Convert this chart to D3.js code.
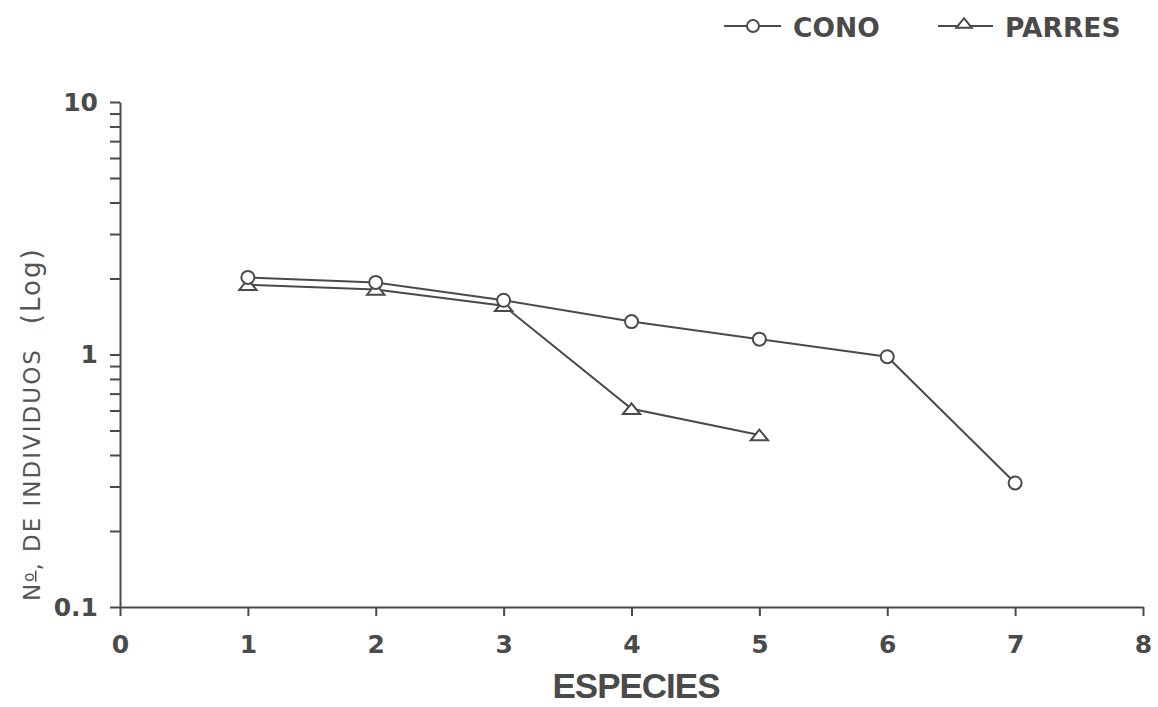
<!DOCTYPE html>
<html>
<head>
<meta charset="utf-8">
<script src="https://cdn.jsdelivr.net/npm/d3@7"></script>
<style>
  body { margin: 0; background: #fff; }
  svg { display: block; font-family: "DejaVu Sans", sans-serif; }
</style>
</head>
<body>
<svg id="chart" width="1158" height="707"></svg>
<script>
// data
const especies = [1, 2, 3, 4, 5, 6, 7];
const cono = [2.02, 1.93, 1.64, 1.35, 1.15, 0.98, 0.31];
const parres = [1.89, 1.81, 1.56, 0.61, 0.48];
const xTicks = [0, 1, 2, 3, 4, 5, 6, 7, 8];
const yMajor = [0.1, 1, 10];
const yMinor = [0.2, 0.3, 0.4, 0.5, 0.6, 0.7, 0.8, 0.9, 2, 3, 4, 5, 6, 7, 8, 9];

const ink = '#4a4a4a';
const svg = d3.select('#chart');

const x = d3.scaleLinear().domain([0, 8]).range([120, 1143]);
const y = d3.scaleLog().domain([0.1, 10]).range([607, 102]);

// wide, flat triangle like the plotter marker
const flatTriangle = {
    draw(ctx, size) {
        const w = Math.sqrt(size);
        const h = w * 0.62;
        ctx.moveTo(0, -h * 0.6);
        ctx.lineTo(w / 2, h * 0.4);
        ctx.lineTo(-w / 2, h * 0.4);
        ctx.closePath();
    }
};

// x axis
const xAxis = d3.axisBottom(x)
    .tickValues(xTicks)
    .tickSize(9)
    .tickSizeOuter(0)
    .tickPadding(19)
    .tickFormat(d3.format('d'));
const gx = svg.append('g')
    .attr('transform', 'translate(0,607)')
    .call(xAxis);
gx.select('.domain').attr('stroke', ink).attr('stroke-width', 2);
gx.selectAll('.tick line').attr('stroke', ink).attr('stroke-width', 2);
gx.selectAll('.tick text')
    .attr('fill', ink)
    .style('font-family', '"DejaVu Sans", sans-serif')
    .style('font-size', '25px')
    .style('font-weight', 'bold');

// y axis, minor ticks first
const gyMinor = svg.append('g')
    .attr('transform', 'translate(120,0)')
    .call(d3.axisLeft(y).tickValues(yMinor).tickSize(10).tickFormat(''));
gyMinor.select('.domain').remove();
gyMinor.selectAll('.tick line').attr('stroke', ink).attr('stroke-width', 2);

const gy = svg.append('g')
    .attr('transform', 'translate(120,0)')
    .call(d3.axisLeft(y)
        .tickValues(yMajor)
        .tickSize(10)
        .tickSizeOuter(0)
        .tickPadding(12)
        .tickFormat(d => d === 0.1 ? '0.1' : String(d)));
gy.select('.domain').attr('stroke', ink).attr('stroke-width', 2);
gy.selectAll('.tick line').attr('stroke', ink).attr('stroke-width', 2);
gy.selectAll('.tick text')
    .attr('fill', ink)
    .style('font-family', '"DejaVu Sans", sans-serif')
    .style('font-size', '25px')
    .style('font-weight', 'bold');

// axis titles
svg.append('text')
    .text('ESPECIES')
    .attr('x', 636)
    .attr('y', 698)
    .attr('text-anchor', 'middle')
    .attr('fill', ink)
    .style('font-family', '"Liberation Sans", Arial, sans-serif')
    .style('font-size', '35px')
    .style('font-weight', 'bold')
    .style('letter-spacing', '-1px');

const yTitle = svg.append('text')
    .attr('transform', 'translate(40,601) rotate(-90)')
    .attr('fill', '#555')
    .style('font-size', '23px')
    .style('letter-spacing', '2px');
yTitle.append('tspan').text('N');
yTitle.append('tspan').text('o').attr('dy', -6).style('font-size', '15px').style('text-decoration', 'underline');
yTitle.append('tspan').text(', DE INDIVIDUOS').attr('dy', 6);
yTitle.append('tspan').text('(Log)').attr('dx', 24).style('font-size', '26px');

// series
const line = d3.line()
    .x(d => x(d[0]))
    .y(d => y(d[1]));

const conoData = cono.map((v, i) => [especies[i], v]);
const parresData = parres.map((v, i) => [especies[i], v]);

const triangle = d3.symbol().type(flatTriangle).size(300);

svg.append('path')
    .datum(parresData)
    .attr('d', line)
    .attr('fill', 'none')
    .attr('stroke', ink)
    .attr('stroke-width', 2);

svg.append('path')
    .datum(conoData)
    .attr('d', line)
    .attr('fill', 'none')
    .attr('stroke', ink)
    .attr('stroke-width', 2);

svg.append('g')
    .selectAll('path')
    .data(parresData)
    .join('path')
    .attr('d', triangle)
    .attr('transform', d => `translate(${x(d[0])},${y(d[1]) + 1})`)
    .attr('fill', 'white')
    .attr('stroke', ink)
    .attr('stroke-width', 2);

svg.append('g')
    .selectAll('circle')
    .data(conoData)
    .join('circle')
    .attr('cx', d => x(d[0]))
    .attr('cy', d => y(d[1]))
    .attr('r', 6.5)
    .attr('fill', 'white')
    .attr('stroke', ink)
    .attr('stroke-width', 2);

// legend
const legend = svg.append('g');
legend.append('line')
    .attr('x1', 724).attr('x2', 781).attr('y1', 26).attr('y2', 26)
    .attr('stroke', ink).attr('stroke-width', 2);
legend.append('circle')
    .attr('cx', 753).attr('cy', 26).attr('r', 6)
    .attr('fill', 'white').attr('stroke', ink).attr('stroke-width', 2);
legend.append('text')
    .text('CONO')
    .attr('x', 793).attr('y', 37)
    .attr('fill', ink)
    .style('font-size', '26.5px').style('font-weight', 'bold');

legend.append('line')
    .attr('x1', 938).attr('x2', 993).attr('y1', 26).attr('y2', 26)
    .attr('stroke', ink).attr('stroke-width', 2);
legend.append('path')
    .attr('d', d3.symbol().type(flatTriangle).size(240))
    .attr('transform', 'translate(964,24)')
    .attr('fill', 'white').attr('stroke', ink).attr('stroke-width', 2);
legend.append('text')
    .text('PARRES')
    .attr('x', 1005).attr('y', 37)
    .attr('fill', ink)
    .style('font-size', '26.5px').style('font-weight', 'bold');
</script>
</body>
</html>
